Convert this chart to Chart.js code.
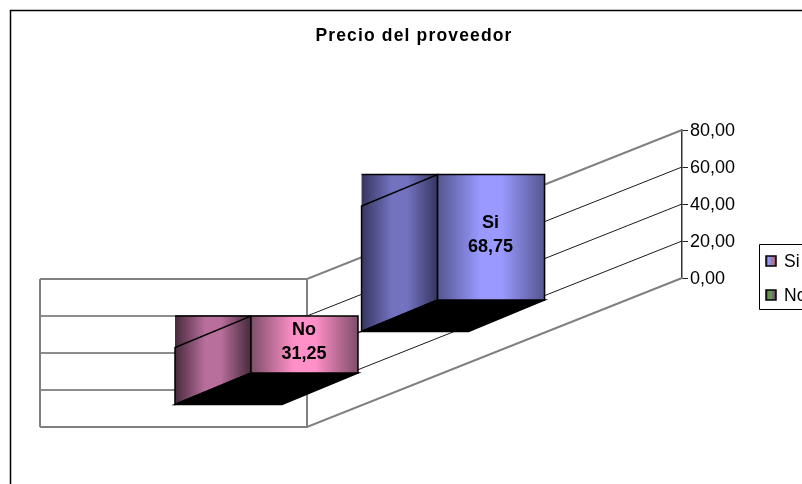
<!DOCTYPE html>
<html><head><meta charset="utf-8">
<style>html,body{margin:0;padding:0;width:802px;height:484px;overflow:hidden;background:#fff}canvas{display:block}</style>
<script src="https://cdn.jsdelivr.net/npm/chart.js@4"></script>
</head><body><canvas id="c" width="828" height="484"></canvas>
<script>
const title = 'Precio del proveedor';
const categories = ['No', 'Si'];
const values = [31.25, 68.75];
const tickValues = [0, 20, 40, 60, 80];
const legendLabels = ['Si', 'No'];

const FONT = '"Liberation Sans", Arial, sans-serif';
const palette = {
  No: {front:['#7d4e69','#ff90c8'], side:['#472a3d','#b96f9c']},
  Si: {front:['#55558f','#9999ff'], side:['#363660','#7272c0']}
};
const legendKeys = {
  Si: ['#33336a','#9999ff','#8888cc','#c07070','#884488'],
  No: ['#333','#6f8f4f','#5aa05a','#8a5a7a','#444']
};
const comma = v => v.toFixed(2).replace('.', ',');

function grad(ctx, x0, x1, cols){
  const g = ctx.createLinearGradient(x0,0,x1,0);
  g.addColorStop(0,cols[0]); g.addColorStop(.4,cols[1]); g.addColorStop(.6,cols[1]); g.addColorStop(1,cols[0]);
  return g;
}
function poly(ctx, pts, fill){
  ctx.beginPath(); pts.forEach((p,i)=> i?ctx.lineTo(p[0],p[1]):ctx.moveTo(p[0],p[1])); ctx.closePath();
  if(fill){ctx.fillStyle=fill;ctx.fill();}
  ctx.strokeStyle='#000';ctx.lineWidth=1.5;ctx.stroke();
}
const scene = {
  id:'scene',
  afterLayout(chart){
    const t = chart.titleBlock, c = chart.ctx;
    if(t && !t._wrapped){
      const d = t.draw.bind(t);
      t.draw = function(){
        c.save(); c.letterSpacing='1.15px';
        c.translate(414-(t.left+t.right)/2,0);
        d(); c.restore();
      };
      t._wrapped = true;
      const s = chart.scales.y, dl = s.drawLabels.bind(s);
      s.drawLabels = function(a){ c.save(); c.translate(0,1); dl(a); c.restore(); };
    }
  },
  beforeDatasetsDraw(chart){
    const c = chart.ctx, y = chart.scales.y, a = chart.chartArea;
    const wallLeft = 40, corner = 307, drop = 149;
    c.save();
    c.strokeStyle='#000'; c.lineWidth=1.5;
    c.beginPath(); c.moveTo(10.5,490); c.lineTo(10.5,10.5); c.lineTo(900,10.5); c.stroke();
    tickValues.forEach(v=>{
      const p = y.getPixelForValue(v);
      const edge = v===0 || v===80;
      c.strokeStyle = edge ? '#808080' : '#1a1a1a';
      c.lineWidth = edge ? 2 : 1;
      c.beginPath(); c.moveTo(wallLeft,p+drop); c.lineTo(corner,p+drop); c.lineTo(a.right,p); c.stroke();
    });
    c.strokeStyle='#808080'; c.lineWidth=2;
    [wallLeft,corner].forEach(x=>{c.beginPath();c.moveTo(x,y.getPixelForValue(80)+drop);c.lineTo(x,y.getPixelForValue(0)+drop);c.stroke();});
    c.restore();
  },
  afterDatasetsDraw(chart){
    const c = chart.ctx, y = chart.scales.y;
    const bars = chart.getDatasetMeta(0).data;
    const faceW = 107, depthX = 76, depthY = 31.5, hScale = 0.985;
    c.save();
    bars.forEach((bar,i)=>{
      const name = categories[i], col = palette[name];
      const p = bar.x + bar.width/2 - bars[0].x - bars[0].width/2;
      const fx = 251 + p*0.995, fy = 373 - 0.39*p;
      const h = (y.getPixelForValue(0)-bar.y)*hScale;
      const bx = fx-depthX, by = fy+depthY;
      const sideFill = grad(c,bx,fx,col.side);
      c.fillStyle=sideFill; c.fillRect(bx,fy-h,depthX,h);
      poly(c,[[bx,by],[fx,fy],[fx,fy-h],[bx,by-h]],sideFill);
      poly(c,[[bx,by],[fx,fy],[fx+faceW,fy],[bx+faceW,by]],'#000');
      poly(c,[[fx,fy],[fx+faceW,fy],[fx+faceW,fy-h],[fx,fy-h]],grad(c,fx,fx+faceW,col.front));
      c.strokeStyle='#000';c.lineWidth=1.5;
      c.beginPath();c.moveTo(bx,fy-h);c.lineTo(fx,fy-h);c.stroke();
      c.fillStyle='#000'; c.font='bold 18px '+FONT; c.textAlign='center'; c.textBaseline='middle';
      const cy = fy-h/2-3;
      c.fillText(name, fx+faceW/2-0.5, cy-11.5);
      c.fillText(comma(values[i]), fx+faceW/2-0.5, cy+12.5);
    });
    c.strokeStyle='#000'; c.lineWidth=1; c.fillStyle='#fff';
    c.beginPath(); c.rect(759.5,244.5,120,65); c.fill(); c.stroke();
    legendLabels.forEach((l,i)=>{
      const ky = 256 + i*35 - (i?1:0);
      const g = c.createLinearGradient(766,0,776,0);
      legendKeys[l].forEach((s,k,arr)=>g.addColorStop(k/(arr.length-1),s));
      c.fillStyle=g; c.fillRect(766,ky,10,10);
      c.strokeStyle='#000'; c.lineWidth=1.5; c.strokeRect(766,ky,10,10);
      c.fillStyle='#000'; c.font='17.5px '+FONT; c.textAlign='left'; c.textBaseline='middle';
      c.fillText(l,784,ky+6);
    });
    c.restore();
  }
};
new Chart(document.getElementById('c'),{
  type:'bar',
  data:{labels:categories,datasets:[{data:values,backgroundColor:'rgba(0,0,0,0)',borderWidth:0,barThickness:76}]},
  plugins:[scene],
  options:{
    responsive:false,animation:false,
    layout:{padding:{left:307,bottom:206,top:0,right:0}},
    plugins:{
      legend:{display:false},tooltip:{enabled:false},
      title:{display:true,text:title,color:'#000',font:{family:FONT,size:17.5,weight:'bold',lineHeight:1.2},padding:{top:26,bottom:83}}
    },
    scales:{
      x:{display:false,grid:{display:false}},
      y:{
        position:'right',min:0,max:80,
        afterFit(s){s.width=146;},
        afterBuildTicks(s){s.ticks=tickValues.map(v=>({value:v}));},
        grid:{drawOnChartArea:false,drawTicks:true,tickLength:6,color:'#222'},
        border:{display:true,color:'#333',width:1.5},
        ticks:{color:'#000',padding:2,font:{family:FONT,size:18},callback:v=>comma(v)}
      }
    }
  }
});
</script></body></html>
